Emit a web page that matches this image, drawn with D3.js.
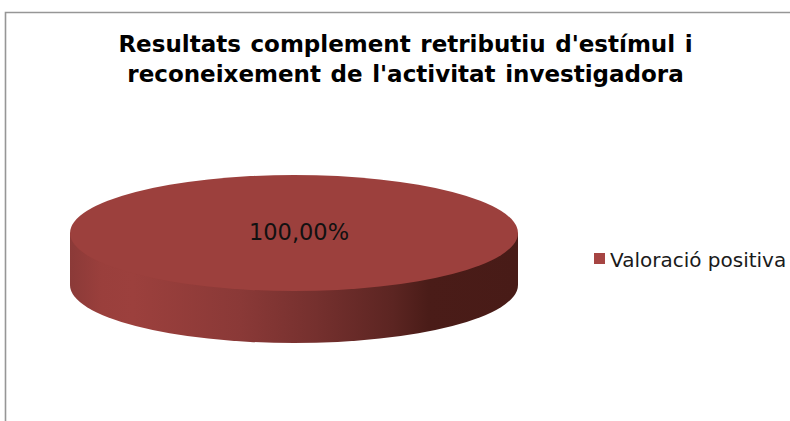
<!DOCTYPE html>
<html>
<head>
    <title>Resultats complement retributiu</title>
    <meta charset="utf-8" />
    <script src="https://d3js.org/d3.v7.min.js"></script>
    <style>
        html, body { margin: 0; padding: 0; background: #fff; }
        svg { display: block; }
        text { font-family: "DejaVu Sans", sans-serif; }
        .title { font-size: 23px; font-weight: bold; text-anchor: middle; fill: #000; word-spacing: 1.6px; }
        .label { font-size: 22.5px; text-anchor: middle; fill: #111; }
        .legend { font-size: 20px; fill: #1a1a1a; }
    </style>
</head>
<body>
    <svg id="chart" width="790" height="421"></svg>
    <script>
        // chart values
        var titleLines = ["Resultats complement retributiu d'estímul i", "reconeixement de l'activitat investigadora"];
        var categories = ["Valoració positiva"];
        var values = [100];
        var valueLabels = ["100,00%"];
        var colors = ["#9c403d"];

        var svg = d3.select("#chart");

        // frame, only top and left are visible
        svg.append("path")
            .attr("d", "M5.5,421V12.5H790")
            .attr("fill", "none")
            .attr("stroke", "#969696")
            .attr("stroke-width", 1.6);

        svg.selectAll(".title").data(titleLines).enter().append("text")
            .attr("class", "title")
            .attr("x", 405.5)
            .attr("y", function(d, i) { return 52 + i * 30; })
            .text(function(d) { return d; });

        // pie geometry
        var cx = 294, cy = 233, rx = 224, ry = 58, depth = 52;
        var slices = d3.pie().sort(null)(values);

        // side wall shading runs left to right
        var grad = svg.append("defs").append("linearGradient")
            .attr("id", "wall")
            .attr("gradientUnits", "userSpaceOnUse")
            .attr("x1", cx - rx).attr("x2", cx + rx)
            .attr("y1", 0).attr("y2", 0);
        [[0, "#8b3a38"], [0.07, "#9a3f3c"], [0.14, "#9c403d"], [0.38, "#8a3937"],
         [0.55, "#75302e"], [0.72, "#5c2522"], [0.8, "#4a1c18"], [1, "#481b17"]].forEach(function(s) {
            grad.append("stop").attr("offset", s[0]).attr("stop-color", s[1]);
        });

        var pieG = svg.append("g");
        pieG.append("path")
            .attr("d", "M" + (cx - rx) + "," + cy +
                "V" + (cy + depth) +
                "A" + rx + "," + ry + " 0 0 0 " + (cx + rx) + "," + (cy + depth) +
                "V" + cy + "Z")
            .attr("fill", "url(#wall)");

        var arc = d3.arc().innerRadius(0).outerRadius(rx);
        pieG.selectAll(".slice").data(slices).enter().append("path")
            .attr("class", "slice")
            .attr("transform", "translate(" + cx + "," + cy + ") scale(1," + (ry / rx) + ")")
            .attr("d", arc)
            .attr("fill", function(d, i) { return colors[i]; });

        svg.selectAll(".label").data(valueLabels).enter().append("text")
            .attr("class", "label")
            .attr("x", 299)
            .attr("y", 240)
            .text(function(d) { return d; });

        // legend
        var legend = svg.selectAll(".legendItem").data(categories).enter().append("g")
            .attr("class", "legendItem");
        legend.append("rect")
            .attr("x", 594).attr("y", 253).attr("width", 11).attr("height", 11)
            .attr("fill", "#a64543");
        legend.append("text")
            .attr("class", "legend")
            .attr("x", 610).attr("y", 267)
            .text(function(d) { return d; });
    </script>
</body>
</html>
